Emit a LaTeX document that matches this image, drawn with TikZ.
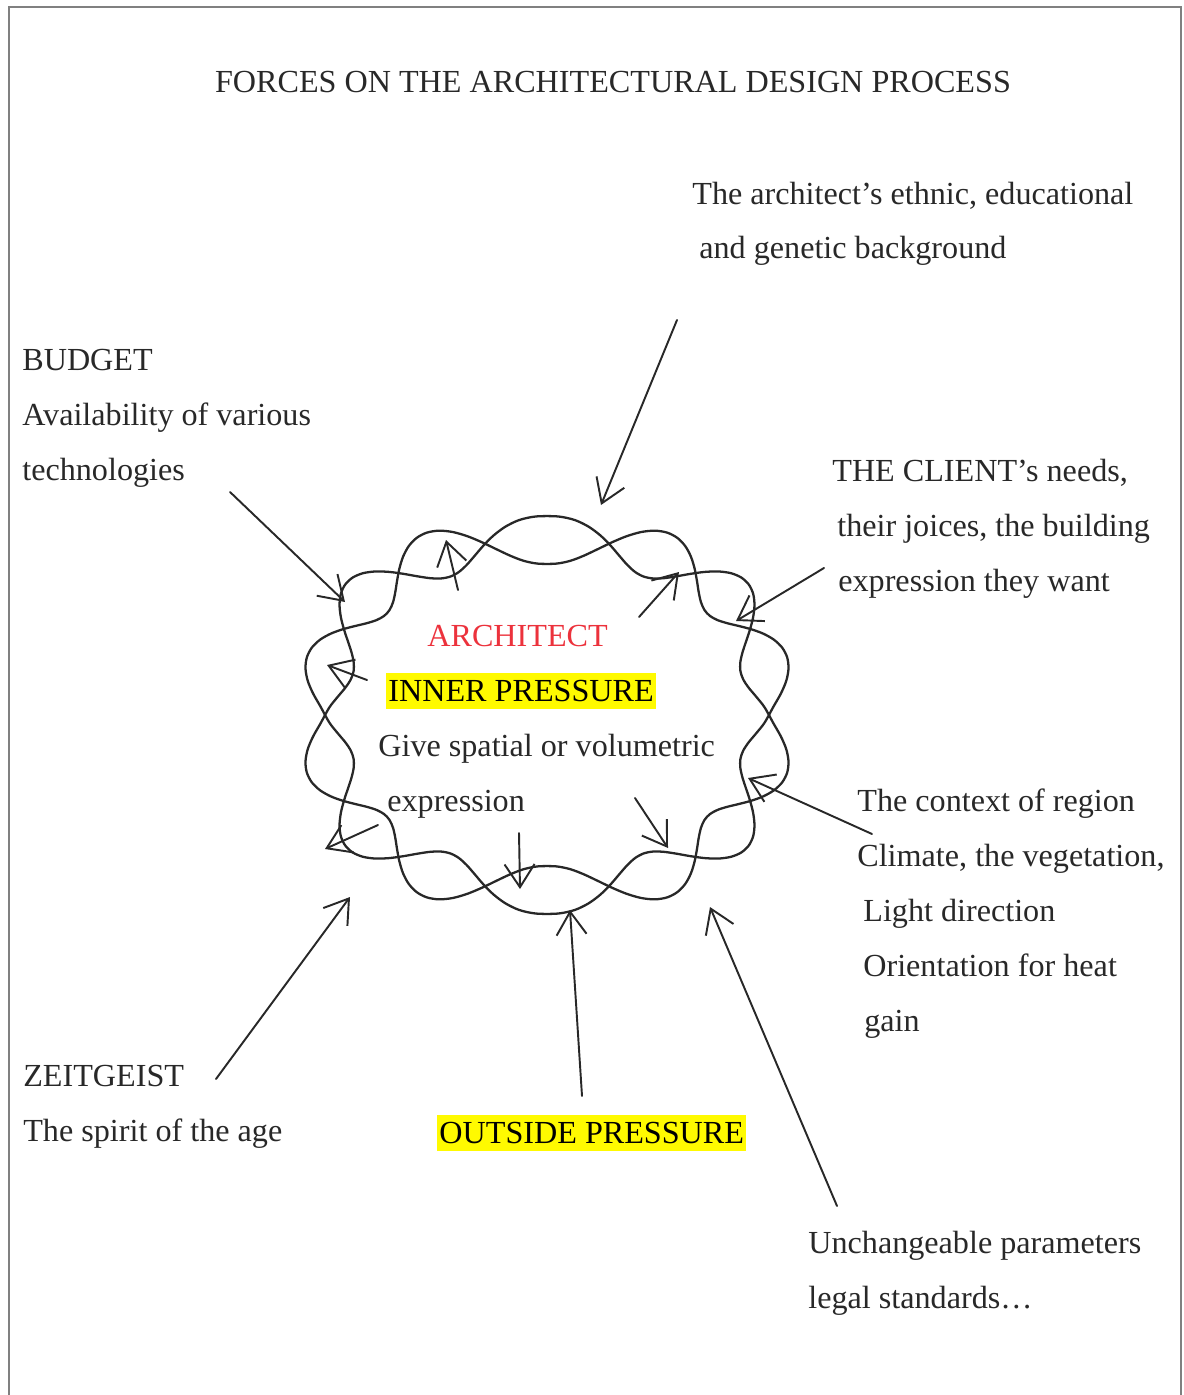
\documentclass[tikz,border=0pt]{standalone}
\usepackage{fontspec}
\setmainfont{Liberation Serif}
\usetikzlibrary{arrows.meta}

\definecolor{archred}{RGB}{236,50,60}
\definecolor{inkgray}{RGB}{40,40,40}
\definecolor{marker}{RGB}{255,250,0}

\begin{document}
\begin{tikzpicture}[
	x=0.02cm, y=-0.02cm,
	label/.style={anchor=base west, inner sep=0pt, align=left, text=inkgray, font=\fontsize{18.3}{31.3}\selectfont},
	highlight/.style={anchor=base west, fill=marker, inner xsep=1.2pt, inner ysep=0pt, text height=0.56cm, text depth=0.16cm, text=black, font=\fontsize{18.3}{20}\selectfont},
	force/.style={-{Straight Barb[length=0.46cm, width=0.6cm]}, line width=1.1pt, draw=inkgray, line cap=round},
	wave/.style={line width=1.3pt, draw=inkgray, line join=round}
	]
	
	\useasboundingbox (0,0) rectangle (1183,1395);
	
	% --- MARCO ---
	\draw[line width=1pt, draw=gray] (9,1395) -- (9,7) -- (1181,7) -- (1181,1395);
	
	% Titulo
	\node[label, anchor=base] (title) at (613,93) {FORCES ON THE ARCHITECTURAL DESIGN PROCESS};
	
	% --- NUBE (dos curvas onduladas) ---
	\draw[wave] plot[smooth cycle, samples=120, domain=1.5:358.5, variable=\t]
	({547+(222+24*sin(7*\t))*cos(\t)*abs(cos(\t))^(-0.15)}, {715+(175+24*sin(7*\t))*sin(\t)*abs(sin(\t))^(-0.15)});
	\draw[wave] plot[smooth cycle, samples=120, domain=1.5:358.5, variable=\t]
	({547+(222-24*sin(7*\t))*cos(\t)*abs(cos(\t))^(-0.15)}, {715+(175-24*sin(7*\t))*sin(\t)*abs(sin(\t))^(-0.15)});
	
	% Dentro (base = ultima linea)
	\node[label, text=archred] (arch) at (427,646) {ARCHITECT};
	\node[highlight] (inner) at (386,701) {INNER PRESSURE};
	\node[label] (give) at (378,811) {Give spatial or volumetric\\\hspace*{0.18cm}expression};
	
	% --- FUERZAS EXTERNAS ---
	\node[label] (backgr) at (692,259) {The architect’s ethnic, educational\\\hspace*{0.14cm}and genetic background};
	\node[label] (budget) at (22,480) {BUDGET\\Availability of various\\technologies};
	\node[label] (client) at (832,591) {THE CLIENT’s needs,\\\hspace*{0.1cm}their joices, the building\\\hspace*{0.12cm}expression they want};
	\node[label] (context) at (857,1031) {The context of region\\Climate, the vegetation,\\\hspace*{0.12cm}Light direction\\\hspace*{0.12cm}Orientation for heat\\\hspace*{0.14cm}gain};
	\node[label] (zeit) at (23,1141) {ZEITGEIST\\The spirit of the age};
	\node[highlight] (outside) at (437,1143) {OUTSIDE PRESSURE};
	\node[label] (legal) at (808,1308) {Unchangeable parameters\\legal standards\ldots};
	
	% Extremos de las flechas
	\coordinate (bg-s) at (677,320);   \coordinate (bg-e) at (601,505);
	\coordinate (bu-s) at (230,492);   \coordinate (bu-e) at (345,602);
	\coordinate (cl-s) at (824,568);   \coordinate (cl-e) at (736,621);
	\coordinate (co-s) at (872,834);   \coordinate (co-e) at (748,778);
	\coordinate (le-s) at (837,1206);  \coordinate (le-e) at (710,907);
	\coordinate (ou-s) at (582,1096);  \coordinate (ou-e) at (570,910);
	\coordinate (ze-s) at (216,1079);  \coordinate (ze-e) at (350,897);
	
	\coordinate (i1-s) at (458,590);   \coordinate (i1-e) at (446,540);
	\coordinate (i2-s) at (639,617);   \coordinate (i2-e) at (679,572);
	\coordinate (i3-s) at (367,680);   \coordinate (i3-e) at (327,665);
	\coordinate (i4-s) at (378,825);   \coordinate (i4-e) at (325,849);
	\coordinate (i5-s) at (519,833);   \coordinate (i5-e) at (520,889);
	\coordinate (i6-s) at (635,798);   \coordinate (i6-e) at (668,848);
	
	% Flechas
	\foreach \f in {bg,bu,cl,co,le,ou,ze}
	\draw[force] (\f-s) -- (\f-e);
	
	\foreach \f in {i1,i2,i3,i4,i5,i6}
	\draw[force] (\f-s) -- (\f-e);
	
\end{tikzpicture}
\end{document}
